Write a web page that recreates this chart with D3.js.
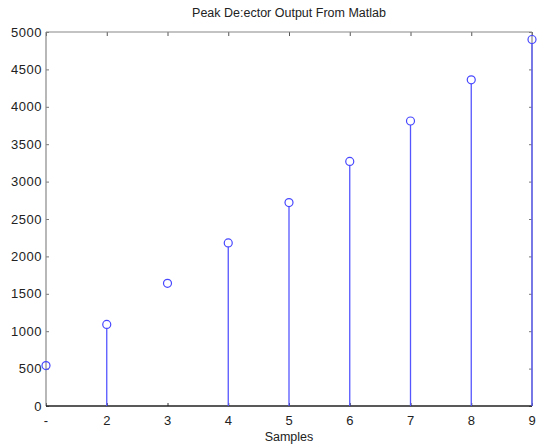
<!DOCTYPE html>
<html><head><meta charset="utf-8">
<script src="https://cdn.jsdelivr.net/npm/d3@7"></script>
<style>body{margin:0;background:#fff}svg{display:block}text{font-family:"Liberation Sans",Arial,sans-serif;fill:#222}</style>
</head><body><svg id="c" width="543" height="445"></svg>
<script>
const samples = [1, 2, 3, 4, 5, 6, 7, 8, 9];
const peakValues = [540, 1090, 1640, 2180, 2720, 3270, 3810, 4360, 4900];
const stemShown = [false, true, false, true, true, true, true, true, true];
const xTickLabels = ["-", "2", "3", "4", "5", "6", "7", "8", "9"];
const yTicks = [0, 500, 1000, 1500, 2000, 2500, 3000, 3500, 4000, 4500, 5000];
const title = "Peak De:ector Output From Matlab";
const xLabel = "Samples";

const svg = d3.select("#c");
const L = 46, R = 532, T = 32, B = 406;
const x = d3.scaleLinear().domain([1, 9]).range([L, R]);
const y = d3.scaleLinear().domain([0, 5000]).range([B, T]);

// Left axis (ticks inward)
const gl = svg.append("g").attr("transform", `translate(${L},0)`)
  .call(d3.axisRight(y).tickValues(yTicks).tickSize(3).tickFormat(""));
gl.select(".domain").remove();
gl.selectAll(".tick line").attr("stroke", "#777");
svg.selectAll(".ylab").data(yTicks).join("text").attr("class","ylab")
  .attr("x", L - 4).attr("y", d => y(d) + 4.5).attr("text-anchor", "end")
  .attr("font-size", 13).attr("letter-spacing", "0.5px").text(d => d);

// Right axis ticks inward
const gr = svg.append("g").attr("transform", `translate(${R},0)`)
  .call(d3.axisLeft(y).tickValues(yTicks).tickSize(3).tickFormat(""));
gr.select(".domain").remove();
gr.selectAll(".tick line").attr("stroke", "#777");

// Top axis ticks inward
const gt = svg.append("g").attr("transform", `translate(0,${T})`)
  .call(d3.axisBottom(x).tickValues(samples).tickSize(4).tickFormat(""));
gt.select(".domain").remove();
gt.selectAll(".tick line").attr("stroke", "#555");

// Bottom axis
const gb = svg.append("g").attr("transform", `translate(0,${B})`)
  .call(d3.axisTop(x).tickValues(samples).tickSize(3).tickFormat(""));
gb.select(".domain").remove();
gb.selectAll(".tick line").attr("stroke", "#333");
svg.selectAll(".xlab").data(samples).join("text").attr("class","xlab")
  .attr("x", d => x(d)).attr("y", B + 19).attr("text-anchor", "middle")
  .attr("font-size", 13).text((d, i) => xTickLabels[i]);

// Frame
svg.append("line").attr("x1", L).attr("x2", R).attr("y1", T).attr("y2", T).attr("stroke", "#888").attr("stroke-width", 1.2);
svg.append("line").attr("x1", L).attr("x2", L).attr("y1", T).attr("y2", B).attr("stroke", "#888").attr("stroke-width", 1.2);
svg.append("line").attr("x1", R).attr("x2", R).attr("y1", T).attr("y2", B).attr("stroke", "#888").attr("stroke-width", 1.2);
svg.append("line").attr("x1", L).attr("x2", R).attr("y1", B).attr("y2", B).attr("stroke", "#222").attr("stroke-width", 1.3);

// Stems
const data = samples.map((s, i) => ({s, v: peakValues[i], show: stemShown[i]}));
svg.selectAll(".stem").data(data.filter(d => d.show)).join("line").attr("class","stem")
  .attr("x1", d => x(d.s)).attr("x2", d => x(d.s))
  .attr("y1", y(0)).attr("y2", d => y(d.v) + 4)
  .attr("stroke", "#5555ff").attr("stroke-width", 1.3);
svg.selectAll(".mk").data(data).join("circle").attr("class","mk")
  .attr("cx", d => x(d.s)).attr("cy", d => y(d.v)).attr("r", 4)
  .attr("fill", "none").attr("stroke", "#4747ff").attr("stroke-width", 1.2);

// Title & label
svg.append("text").attr("x", 289).attr("y", 17).attr("text-anchor", "middle").attr("font-size", 12.5).text(title);
svg.append("text").attr("x", 289).attr("y", 441).attr("text-anchor", "middle").attr("font-size", 12.5).text(xLabel);
</script></body></html>
